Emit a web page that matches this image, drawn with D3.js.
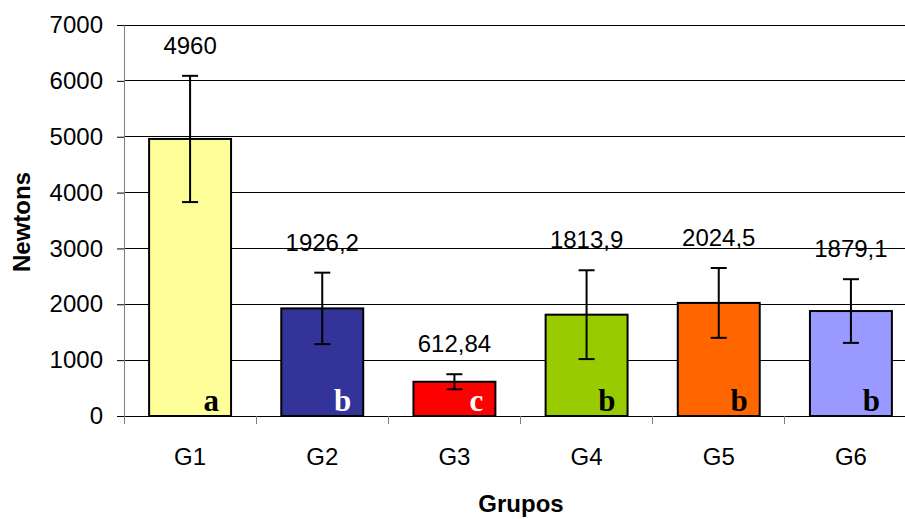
<!DOCTYPE html>
<html>
<head>
<meta charset="utf-8">
<script src="https://cdn.jsdelivr.net/npm/d3@7"></script>
<style>
  body { margin: 0; background: #fff; }
  text { font-family: "Liberation Sans", Arial, sans-serif; }
</style>
</head>
<body>
<div id="chart"></div>
<script>
const groups = ['G1', 'G2', 'G3', 'G4', 'G5', 'G6'];
const means = [4960, 1926.2, 612.84, 1813.9, 2024.5, 1879.1];
const errors = [1130, 640, 135, 795, 625, 570];
const meanLabels = ['4960', '1926,2', '612,84', '1813,9', '2024,5', '1879,1'];
const letters = ['a', 'b', 'c', 'b', 'b', 'b'];
const colors = ['#ffff99', '#333399', '#ff0000', '#99cc00', '#ff6600', '#9999ff'];
const letterColors = ['#000', '#fff', '#fff', '#000', '#000', '#000'];
const yTicks = [0, 1000, 2000, 3000, 4000, 5000, 6000, 7000];

const width = 905, height = 519;
const margin = { top: 25, right: -12, bottom: 103, left: 124 };

const svg = d3.select('#chart')
    .append('svg')
    .attr('width', width)
    .attr('height', height);

const x = d3.scaleBand()
    .domain(groups)
    .range([margin.left, width - margin.right])
    .paddingInner(0.38)
    .paddingOuter(0.19);

const y = d3.scaleLinear()
    .domain([0, 7000])
    .range([height - margin.bottom, margin.top]);

// gridlines
svg.append('g')
    .selectAll('line')
    .data(yTicks)
    .enter()
    .append('line')
    .attr('x1', margin.left)
    .attr('x2', width - margin.right)
    .attr('y1', d => y(d))
    .attr('y2', d => y(d))
    .style('stroke', '#000')
    .style('stroke-width', 1)
    .attr('shape-rendering', 'crispEdges');

// y axis
const yAxis = svg.append('g')
    .attr('transform', `translate(${margin.left},0)`)
    .call(d3.axisLeft(y).tickValues(yTicks).tickSize(7).tickPadding(14).tickFormat(d3.format('d')));
yAxis.select('.domain').style('stroke', '#808080');
yAxis.selectAll('line').style('stroke', '#000');
yAxis.selectAll('text')
    .style('font-size', '24px')
    .style('fill', '#000')
    .style('font-family', '"Liberation Sans", Arial, sans-serif');

// x axis ticks at band boundaries
const bandStep = x.step();
const boundaries = groups.map((g, i) => x(g) - x.paddingOuter() * bandStep + 0 * i);
svg.append('g')
    .selectAll('line')
    .data(groups.concat(['end']))
    .enter()
    .append('line')
    .attr('x1', (d, i) => margin.left + i * bandStep)
    .attr('x2', (d, i) => margin.left + i * bandStep)
    .attr('y1', y(0))
    .attr('y2', y(0) + 8)
    .style('stroke', '#808080')
    .style('stroke-width', 1)
    .attr('shape-rendering', 'crispEdges');

svg.append('g')
    .selectAll('text')
    .data(groups)
    .enter()
    .append('text')
    .attr('x', d => x(d) + x.bandwidth() / 2)
    .attr('y', 465)
    .attr('text-anchor', 'middle')
    .style('font-size', '24px')
    .text(d => d);

// bars
svg.append('g')
    .selectAll('rect')
    .data(groups)
    .enter()
    .append('rect')
    .attr('x', d => x(d))
    .attr('y', (d, i) => y(means[i]))
    .attr('width', x.bandwidth())
    .attr('height', (d, i) => y(0) - y(means[i]))
    .style('fill', (d, i) => colors[i])
    .style('stroke', '#000')
    .style('stroke-width', 2);

// error bars
const eb = svg.append('g');
groups.forEach((g, i) => {
    const cx = x(g) + x.bandwidth() / 2;
    const top = y(means[i] + errors[i]);
    const bot = y(means[i] - errors[i]);
    eb.append('line').attr('x1', cx).attr('x2', cx).attr('y1', top).attr('y2', bot);
    eb.append('line').attr('x1', cx - 8).attr('x2', cx + 8).attr('y1', top).attr('y2', top);
    eb.append('line').attr('x1', cx - 8).attr('x2', cx + 8).attr('y1', bot).attr('y2', bot);
});
eb.selectAll('line').style('stroke', '#000').style('stroke-width', 2);

// value labels
svg.append('g')
    .selectAll('text')
    .data(groups)
    .enter()
    .append('text')
    .attr('x', d => x(d) + x.bandwidth() / 2)
    .attr('y', (d, i) => y(means[i] + errors[i]) - 22)
    .attr('text-anchor', 'middle')
    .style('font-size', '24px')
    .text((d, i) => meanLabels[i]);

// significance letters
svg.append('g')
    .selectAll('text')
    .data(groups)
    .enter()
    .append('text')
    .attr('x', d => x(d) + x.bandwidth() - 12)
    .attr('y', y(0) - 5)
    .attr('text-anchor', 'end')
    .style('font-family', '"Liberation Serif", "Times New Roman", serif')
    .style('font-weight', 'bold')
    .style('font-size', '31px')
    .style('fill', (d, i) => letterColors[i])
    .text((d, i) => letters[i]);

// axis titles
svg.append('text')
    .attr('transform', 'translate(30,222) rotate(-90)')
    .attr('text-anchor', 'middle')
    .style('font-size', '24px')
    .style('font-weight', 'bold')
    .text('Newtons');

svg.append('text')
    .attr('x', 521)
    .attr('y', 512)
    .attr('text-anchor', 'middle')
    .style('font-size', '24px')
    .style('font-weight', 'bold')
    .text('Grupos');
</script>
</body>
</html>
